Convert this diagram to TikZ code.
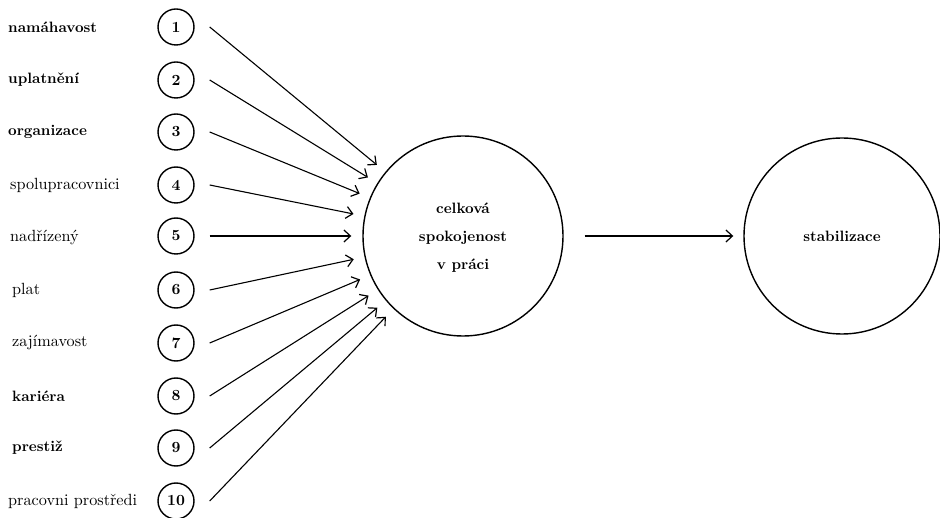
\documentclass[tikz,border=0pt]{standalone}
\usetikzlibrary{arrows.meta}
\newcommand\Sx[2]{\scalebox{#1}{#2}}
\begin{document}
\begin{tikzpicture}[x=1pt,y=-1pt,
  lab/.style={anchor=west,inner sep=0pt,font=\fontsize{10}{12}\selectfont},
  blab/.style={lab,font=\fontsize{10}{12}\selectfont\bfseries},
  num/.style={circle,draw,line width=1.4pt,minimum size=36pt,inner sep=0pt,font=\fontsize{10}{12}\selectfont\bfseries},
  big/.style={circle,draw,line width=1.4pt,minimum size=200pt,inner sep=0pt,font=\fontsize{10}{12}\selectfont\bfseries},
  arr/.style={line width=1.1pt,-{Straight Barb[length=6.5pt,width=12pt,line width=1.2pt]},shorten >=11pt}
]
\useasboundingbox (0,0) rectangle (940,518);

\node[big] (sat) at (463,236) {\raisebox{-3pt}{\Sx{1.5}{\def\arraystretch{1.53}\begin{tabular}{@{}c@{}}celková\\spokojenost\\v práci\end{tabular}}}};
\node[big,minimum size=196pt] (stab) at (842,236) {\Sx{1.5}{stabilizace}};

\node[blab] (l1) at (8,27) {\Sx{1.5}{namáhavost}};
\node[blab] (l2) at (8,80) {\Sx{1.5}{uplatnění}};
\node[blab] (l3) at (8,132) {\Sx{1.5}{organizace}};
\node[lab] (l4) at (10,185) {\Sx{1.62}{spolupracovnici}};
\node[lab] (l5) at (10,238) {\Sx{1.62}{nadřízený}};
\node[lab] (l6) at (12,290) {\Sx{1.62}{plat}};
\node[lab] (l7) at (12,343) {\Sx{1.62}{zajímavost}};
\node[blab] (l8) at (12,396) {\Sx{1.5}{kariéra}};
\node[blab] (l9) at (12,448) {\Sx{1.5}{prestiž}};
\node[lab] (l10) at (8,501) {\Sx{1.62}{pracovni prostředi}};

\foreach \i/\y in {1/27,2/80,3/132,4/185,5/236,6/290,7/343,8/396,9/448,10/501}{
  \node[num] (n\i) at (176,\y) {\Sx{1.55}{\i}};
  \draw[arr] ([xshift=15pt]n\i.east) -- (sat);
}

\draw[arr,shorten >=10pt,shorten <=21pt] (sat) -- (stab);
\end{tikzpicture}
\end{document}
